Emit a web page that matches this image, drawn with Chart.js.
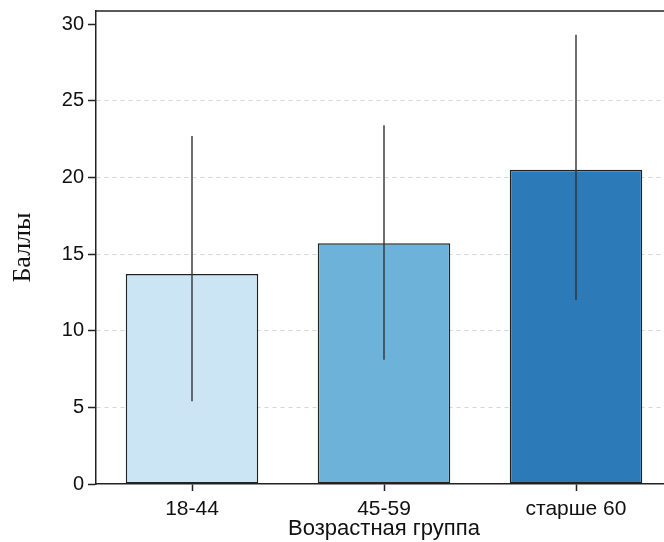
<!DOCTYPE html>
<html>
<head>
<meta charset="utf-8">
<script src="https://cdn.jsdelivr.net/npm/chart.js@4.4.1/dist/chart.umd.min.js"></script>
<style>
  html, body { margin: 0; padding: 0; background: #fff; overflow: hidden; }
  #wrap { width: 680px; height: 542px; }
</style>
</head>
<body>
<div id="wrap"><canvas id="chart" width="680" height="542"></canvas></div>
<script>
// age groups and mean scores
const groups = ['18-44', '45-59', 'старше 60'];
const means = [13.7, 15.7, 20.5];
const errLow = [5.4, 8.1, 12.0];
const errHigh = [22.7, 23.4, 29.3];
const barColors = ['#cce5f4', '#6db2d9', '#2c7bb8'];
const yTicks = [0, 5, 10, 15, 20, 25, 30];

// whiskers drawn over the bars
const errorBars = {
  id: 'errorBars',
  afterDatasetsDraw(chart) {
    const ctx = chart.ctx;
    const y = chart.scales.y;
    const meta = chart.getDatasetMeta(0);
    ctx.save();
    ctx.strokeStyle = '#333';
    ctx.lineWidth = 1.4;
    meta.data.forEach((bar, i) => {
      ctx.beginPath();
      ctx.moveTo(bar.x, y.getPixelForValue(errLow[i]));
      ctx.lineTo(bar.x, y.getPixelForValue(errHigh[i]));
      ctx.stroke();
    });
    ctx.restore();
  }
};

// top frame line
const topFrame = {
  id: 'topFrame',
  afterDraw(chart) {
    const a = chart.chartArea;
    const ctx = chart.ctx;
    ctx.save();
    ctx.strokeStyle = '#222';
    ctx.lineWidth = 1.5;
    ctx.beginPath();
    ctx.moveTo(a.left, a.top);
    ctx.lineTo(a.right + 10, a.top);
    ctx.stroke();
    ctx.restore();
  }
};

new Chart(document.getElementById('chart'), {
  type: 'bar',
  data: {
    labels: groups,
    datasets: [{
      data: means,
      backgroundColor: barColors,
      borderColor: '#222',
      borderWidth: 1.5,
      borderSkipped: false,
      barPercentage: 0.69,
      categoryPercentage: 1.0
    }]
  },
  options: {
    responsive: false,
    animation: false,
    layout: { padding: { top: 0, right: 8, left: 0, bottom: 0 } },
    plugins: { legend: { display: false }, tooltip: { enabled: false } },
    scales: {
      x: {
        grid: {
          display: true,
          offset: false,
          drawOnChartArea: false,
          drawTicks: true,
          tickLength: 7,
          tickColor: '#222',
          tickWidth: 1.5
        },
        border: { color: '#222', width: 1.5 },
        ticks: {
          color: '#111',
          font: { family: '"Liberation Sans", Arial, sans-serif', size: 21 },
          padding: 6
        },
        title: {
          display: true,
          text: 'Возрастная группа',
          color: '#111',
          font: { family: '"Liberation Sans", Arial, sans-serif', size: 22 },
          padding: { top: 0, bottom: 0 }
        },
        afterFit(scale) { scale.height = 58; }
      },
      y: {
        min: 0,
        max: 30.85,
        afterBuildTicks(scale) {
          scale.ticks = yTicks.map(v => ({ value: v }));
        },
        grid: {
          color: ctx => (ctx.tick && ctx.tick.value > 0 && ctx.tick.value < 30) ? '#d6d6d6' : 'rgba(0,0,0,0)',
          lineWidth: 1,
          drawTicks: true,
          tickLength: 8,
          tickColor: '#222',
          tickWidth: 1.5
        },
        border: { color: '#222', width: 1.5, dash: [4, 4] },
        ticks: {
          color: '#111',
          font: { family: '"Liberation Sans", Arial, sans-serif', size: 20, lineHeight: 0.7 },
          padding: 4
        },
        title: {
          display: true,
          text: 'Баллы',
          color: '#111',
          font: { family: '"Liberation Serif", "Times New Roman", serif', size: 26 },
          padding: { top: 8, bottom: 0 }
        },
        afterFit(scale) { scale.width = 96; }
      }
    }
  },
  plugins: [errorBars, topFrame]
});
</script>
</body>
</html>
